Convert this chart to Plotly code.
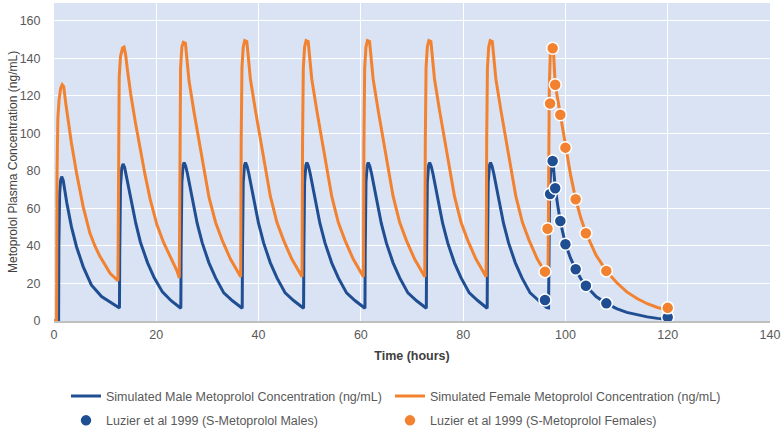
import plotly.graph_objects as go

# Simulated female concentration (ng/mL) vs time (hours)
sim_female_time = [
    0, 0.5,
    0.6, 0.75, 1.0, 1.3, 1.6, 1.9, 2.3, 2.8, 3.4, 4.4, 5.7, 7.0, 8.0, 9.0, 10.0, 11.0, 12.5,
    12.6, 12.75, 13.0, 13.4, 13.7, 14.0, 14.4, 15.0, 15.9, 16.9, 17.8, 18.8, 20.1, 21.4, 23.0, 24.0, 24.5,
    24.6, 24.75, 25.0, 25.3, 25.7, 26.0, 26.4, 27.4, 28.4, 29.3, 30.3, 31.6, 32.9, 34.5, 35.8, 36.5,
    36.6, 36.75, 37.0, 37.3, 37.7, 38.0, 38.4, 39.4, 40.4, 41.3, 42.3, 43.6, 44.9, 46.5, 47.8, 48.5,
    48.6, 48.75, 49.0, 49.3, 49.7, 50.0, 50.4, 51.4, 52.4, 53.3, 54.3, 55.6, 56.9, 58.5, 59.8, 60.5,
    60.6, 60.75, 61.0, 61.3, 61.7, 62.0, 62.4, 63.4, 64.4, 65.3, 66.3, 67.6, 68.9, 70.5, 71.8, 72.5,
    72.6, 72.75, 73.0, 73.3, 73.7, 74.0, 74.4, 75.4, 76.4, 77.3, 78.3, 79.6, 80.9, 82.5, 83.8, 84.5,
    84.6, 84.75, 85.0, 85.3, 85.7, 86.0, 86.4, 87.4, 88.4, 89.3, 90.3, 91.6, 92.9, 94.5, 95.8, 96.6,
    96.7, 96.85, 97.05, 97.35, 97.6, 97.85, 98.0, 98.5, 99.0, 100.0, 101.0, 102.0, 103.0, 104.0,
    106.0, 108.0, 110.0, 112.0, 114.0, 116.0, 118.0, 120.0,
]
sim_female_conc = [
    0, 0,
    80, 108, 118, 124, 126, 125, 116, 106, 95, 79, 61, 47, 40, 34.3, 29.5, 25.3, 21.5,
    90, 130, 141, 145.5, 146, 142, 133, 121, 106, 91, 78, 65, 51.5, 42, 32.5, 27, 23,
    95, 135, 146, 148.5, 148, 140, 128, 111, 95, 80.5, 66, 52.5, 43, 33, 27, 23.6,
    95, 135, 146, 149.5, 149, 141, 129, 112, 96, 81, 66.5, 52.5, 43, 33, 27, 23.6,
    95, 135, 146, 149.5, 149, 141, 129, 112, 96, 81, 66.5, 52.5, 43, 33, 27, 23.6,
    95, 135, 146, 149.5, 149, 141, 129, 112, 96, 81, 66.5, 52.5, 43, 33, 27, 23.6,
    95, 135, 146, 149.5, 149, 141, 129, 112, 96, 81, 66.5, 52.5, 43, 33, 27, 23.6,
    95, 135, 146, 149.5, 149, 141, 129, 112, 96, 81, 66.5, 52.5, 43, 33, 27, 24.3,
    70, 125, 143, 148.5, 147, 133, 126, 118, 110, 92.4, 78, 65, 55, 47,
    35, 26.7, 20.5, 15.5, 12, 9.2, 7.2, 5.8,
]

# Simulated male concentration (ng/mL) vs time (hours)
sim_male_time = [
    0, 0.9,
    0.95, 1.1, 1.3, 1.5, 1.8, 2.5, 3.4, 4.4, 5.7, 7.3, 9.3, 11.3, 12.8,
    12.85, 13.0, 13.25, 13.5, 13.8, 14.1, 15.1, 16.0, 16.9, 18.3, 19.6, 21.2, 22.9, 24.4, 24.8,
    24.85, 25.0, 25.25, 25.45, 25.75, 26.1, 27.1, 28.0, 29.0, 30.3, 31.6, 33.2, 34.9, 36.4, 36.8,
    36.85, 37.0, 37.25, 37.45, 37.75, 38.1, 39.1, 40.0, 41.0, 42.3, 43.6, 45.2, 46.9, 48.4, 48.8,
    48.85, 49.0, 49.25, 49.45, 49.75, 50.1, 51.1, 52.0, 53.0, 54.3, 55.6, 57.2, 58.9, 60.4, 60.8,
    60.85, 61.0, 61.25, 61.45, 61.75, 62.1, 63.1, 64.0, 65.0, 66.3, 67.6, 69.2, 70.9, 72.4, 72.8,
    72.85, 73.0, 73.25, 73.45, 73.75, 74.1, 75.1, 76.0, 77.0, 78.3, 79.6, 81.2, 82.9, 84.4, 84.7,
    84.75, 84.9, 85.15, 85.35, 85.65, 86.0, 87.0, 87.9, 88.9, 90.2, 91.5, 93.1, 94.8, 96.3, 96.7,
    96.75, 96.9, 97.1, 97.4, 97.6, 97.85, 98.0, 98.5, 99.0, 100.0, 101.0, 102.0, 103.0, 104.0,
    106.0, 108.0, 110.0, 112.0, 114.0, 116.0, 118.0, 120.0,
]
sim_male_conc = [
    0, 0,
    40, 68, 75, 77, 75, 63, 50.3, 39.6, 29, 19.2, 13, 9.4, 6.9,
    35, 72, 81.5, 83.7, 82, 78, 64, 52, 42, 31, 23, 15.5, 10.8, 7.3, 6.8,
    35, 74, 83, 84.5, 82.5, 78.5, 64.5, 52, 41.5, 31, 23, 15, 10.8, 7.3, 6.8,
    35, 74, 83, 84.5, 82.5, 78.5, 64.5, 52, 41.5, 31, 23, 15, 10.8, 7.3, 6.8,
    35, 74, 83, 84.5, 82.5, 78.5, 64.5, 52, 41.5, 31, 23, 15, 10.8, 7.3, 6.8,
    35, 74, 83, 84.5, 82.5, 78.5, 64.5, 52, 41.5, 31, 23, 15, 10.8, 7.3, 6.8,
    35, 74, 83, 84.5, 82.5, 78.5, 64.5, 52, 41.5, 31, 23, 15, 10.8, 7.3, 6.8,
    35, 74, 83, 84.5, 82.5, 78.5, 64.5, 52, 41.5, 31, 23, 15, 10.8, 7.3, 7.0,
    40, 68, 79, 85, 84, 75, 71, 61.5, 53, 41, 33.5, 27.6, 22.5, 18.8,
    13, 9.4, 6.6, 4.6, 3.2, 2.2, 1.4, 0.9,
]

# Observed data: Luzier et al 1999
obs_male_time = [96, 97, 97.5, 98, 99, 100, 102, 104, 108, 120]
obs_male_conc = [11.2, 67.7, 85.3, 70.8, 53.3, 40.9, 27.6, 18.8, 9.4, 2.0]
obs_female_time = [96, 96.5, 97, 97.5, 98, 99, 100, 102, 104, 108, 120]
obs_female_conc = [26.3, 49.2, 115.9, 145.4, 125.9, 109.9, 92.4, 64.9, 46.8, 26.7, 7.0]

x_ticks = [0, 20, 40, 60, 80, 100, 120, 140]
y_ticks = [0, 20, 40, 60, 80, 100, 120, 140, 160]

BLUE = "#1F4E93"
ORANGE = "#F28230"
FONT = "Liberation Sans, Arial, sans-serif"

fig = go.Figure()
fig.add_trace(go.Scatter(
    x=sim_male_time, y=sim_male_conc, mode="lines",
    name="Simulated Male Metoprolol Concentration (ng/mL)",
    line=dict(color=BLUE, width=3),
    legend="legend", legendgroup="a",
))
fig.add_trace(go.Scatter(
    x=sim_female_time, y=sim_female_conc, mode="lines",
    name="Simulated Female Metoprolol Concentration (ng/mL)",
    line=dict(color=ORANGE, width=3),
    legend="legend2", legendgroup="b",
))
fig.add_trace(go.Scatter(
    x=obs_male_time, y=obs_male_conc, mode="markers",
    name="Luzier et al 1999 (S-Metoprolol Males)",
    marker=dict(color=BLUE, size=12, line=dict(color="white", width=1.5)),
    legend="legend", legendgroup="c",
))
fig.add_trace(go.Scatter(
    x=obs_female_time, y=obs_female_conc, mode="markers",
    name="Luzier et al 1999 (S-Metoprolol Females)",
    marker=dict(color=ORANGE, size=12, line=dict(color="white", width=1.5)),
    legend="legend2", legendgroup="d",
))

legend_common = dict(
    orientation="v",
    xref="container", yref="container",
    y=0.119, xanchor="left", yanchor="top",
    font=dict(family=FONT, size=12.5, color="#595959"),
    bgcolor="rgba(0,0,0,0)",
    tracegroupgap=5,
    traceorder="grouped",
)

fig.update_layout(
    width=782, height=433,
    margin=dict(l=54, r=12, t=3, b=112, autoexpand=False),
    paper_bgcolor="white",
    plot_bgcolor="#D9E3F3",
    font=dict(family=FONT, size=12.5, color="#595959"),
    showlegend=True,
    legend=dict(x=0.0844, **legend_common),
    legend2=dict(x=0.4987, **legend_common),
    annotations=[dict(
        text="Metoprolol Plasma Concentration (ng/mL)",
        xref="paper", yref="paper", x=-0.0573, y=0.5,
        xanchor="center", yanchor="middle", textangle=-90,
        showarrow=False, font=dict(family=FONT, size=12, color="#404040"),
    )],
)
fig.update_xaxes(
    range=[0, 140], tickvals=x_ticks, ticktext=[str(v) for v in x_ticks],
    showgrid=True, gridcolor="white", gridwidth=1,
    zeroline=False, showline=True, linecolor="#BFBFBF", linewidth=2,
    ticks="outside", ticklen=1, tickcolor="rgba(0,0,0,0)",
    tickfont=dict(size=12.5, color="#595959"),
    automargin=False,
    title=dict(text="<b>Time (hours)</b>", font=dict(size=12.5, color="#404040"), standoff=10),
)
fig.update_yaxes(
    range=[0, 169.5], tickvals=y_ticks, ticktext=[str(v) for v in y_ticks],
    showgrid=True, gridcolor="white", gridwidth=1,
    zeroline=False, showline=False,
    ticks="outside", ticklen=10, tickcolor="rgba(0,0,0,0)",
    tickfont=dict(size=12.5, color="#595959"),
    automargin=False,
)

fig.write_html(
    "out.html",
    config={"displayModeBar": False},
    post_script="document.body.style.margin='0';document.body.style.padding='0';",
)
